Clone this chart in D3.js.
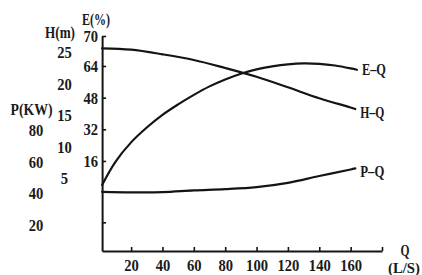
<!DOCTYPE html>
<html><head><meta charset="utf-8">
<script src="https://cdn.jsdelivr.net/npm/d3@7"></script>
<style>
html,body{margin:0;padding:0;background:#fff;}
text{font-family:"Liberation Serif","DejaVu Serif",serif;font-weight:bold;fill:#1a1a1a;}
</style></head>
<body><svg id="c" width="422" height="275"></svg>
<script>
// ---- data ----
const qTicks = [20, 40, 60, 80, 100, 120, 140, 160];
const eTickValues = [16, 32, 48, 64, 70];
const hTickValues = [5, 10, 15, 20, 25];
const pTickValues = [20, 40, 60, 80];

const qE = [1.5, 10, 20, 30, 40, 50, 60, 70, 80, 90, 100, 110, 120, 130, 140, 150, 160, 164];
const eVals = [3.9, 15.6, 25.4, 32.9, 39.3, 44.6, 49.4, 53.7, 57.2, 60.1, 62.3, 63.8, 64.34, 64.54, 64.44, 64.1, 62.8, 62.1];

const qH = [1.5, 20, 40, 60, 80, 100, 120, 140, 160, 163];
const hVals = [25.63, 25.41, 24.68, 23.78, 22.51, 21.11, 19.44, 17.71, 16.24, 16.0];

const qP = [1.5, 20, 40, 60, 80, 100, 120, 140, 160, 163];
const pVals = [40.9, 40.6, 40.7, 41.8, 42.6, 43.9, 46.6, 50.9, 55.0, 55.7];

const curveLabels = ["E\u2013Q", "H\u2013Q", "P\u2013Q"];

// ---- setup ----
const svg = d3.select("#c");
svg.append("rect").attr("width",422).attr("height",275).attr("fill","#fff");
const ink = "#141414";
const FS = 17;

// narrow tall glyphs like the printed original
function narrow(sel, perChar) {
  sel.each(function() {
    const t = d3.select(this);
    const s = t.text();
    if (!s) return;
    t.attr("textLength", s.length * perChar).attr("lengthAdjust", "spacingAndGlyphs");
  });
}
function styleText(sel) {
  sel.attr("font-size", FS).style("font-family", "Liberation Serif").style("font-weight","bold").attr("fill", ink);
  narrow(sel, 7.3);
}

// ---- scales ----
const x = d3.scaleLinear().domain([1.5, 180]).range([102.1, 382]);
const yE = d3.scaleLinear().domain([-29.5, 64, 70]).range([251, 66, 36]);
const yH = d3.scaleLinear().domain([0, 25]).range([209.8, 52.3]);
const yP = d3.scaleLinear().domain([0, 80]).range([256.5, 130]);

// bottom axis
const gx = svg.append("g").attr("transform", `translate(0,${yE(-29.5)})`)
  .call(d3.axisBottom(x).tickValues(qTicks.concat([180])).tickSize(-4).tickSizeOuter(0).tickPadding(7.5)
    .tickFormat(d => d === 180 ? "" : d));
gx.select(".domain").attr("stroke", ink).attr("stroke-width", 2);
gx.selectAll(".tick line").attr("stroke", ink).attr("stroke-width", 1.6);
styleText(gx.selectAll("text"));

// left (E) axis
const gy = svg.append("g").attr("transform", `translate(${x(1.5)},0)`)
  .call(d3.axisLeft(yE).tickValues([-15].concat(eTickValues)).tickSize(-4).tickSizeOuter(0).tickPadding(4)
    .tickFormat(d => d < 0 ? "" : d));
gy.select(".domain").attr("stroke", ink).attr("stroke-width", 2);
gy.selectAll(".tick line").attr("stroke", ink).attr("stroke-width", 1.6);
styleText(gy.selectAll("text"));

// H labels
const gh = svg.append("g").attr("transform", "translate(64.5,0)")
  .call(d3.axisLeft(yH).tickValues(hTickValues).tickSize(0).tickPadding(0));
gh.select(".domain").remove();
gh.selectAll("text").attr("text-anchor","middle").attr("x",0);
styleText(gh.selectAll("text"));

// P labels
const gp = svg.append("g").attr("transform", "translate(36,0)")
  .call(d3.axisLeft(yP).tickValues(pTickValues).tickSize(0).tickPadding(0));
gp.select(".domain").remove();
gp.selectAll("text").attr("text-anchor","middle").attr("x",0);
styleText(gp.selectAll("text"));

// axis titles
const title = (t, cx, by, w, size) => svg.append("text").text(t).attr("x", cx).attr("y", by)
  .attr("text-anchor","middle").attr("font-size", size || 16).attr("fill", ink)
  .attr("textLength", w).attr("lengthAdjust", "spacingAndGlyphs");
title("E(%)", 96, 24.5, 28);
title("H(m)", 60, 38, 30);
title("P(KW)", 31.5, 115, 42);
title("Q", 405, 255.5, 9);
title("(L/S)", 404, 273, 32, 14);

// curves
const line = d3.line().curve(d3.curveCatmullRom.alpha(0.5));
const series = [
  {q: qE, v: eVals, s: yE, dy: 5},
  {q: qH, v: hVals, s: yH, dy: 9},
  {q: qP, v: pVals, s: yP, dy: 9}
];
series.forEach((sr, i) => {
  const pts = sr.q.map((q, j) => [x(q), sr.s(sr.v[j])]);
  svg.append("path").attr("d", line(pts)).attr("fill","none")
    .attr("stroke", ink).attr("stroke-width", 2.2).attr("stroke-linecap","round");
  const last = pts[pts.length - 1];
  svg.append("text").text(curveLabels[i]).attr("x", last[0] + 5).attr("y", last[1] + sr.dy)
    .attr("font-size", 16).attr("fill", ink)
    .attr("textLength", 24).attr("lengthAdjust", "spacingAndGlyphs");
});
</script></body></html>
